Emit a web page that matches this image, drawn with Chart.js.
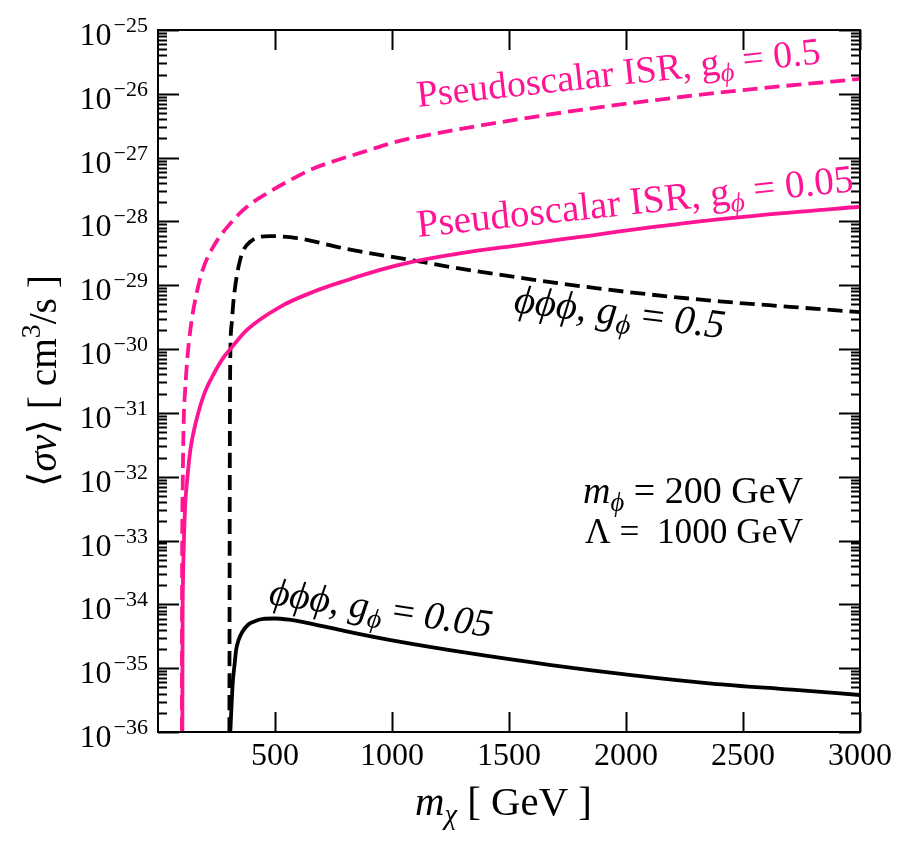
<!DOCTYPE html>
<html>
<head>
<meta charset="utf-8">
<script src="https://cdn.jsdelivr.net/npm/chart.js@4.4.1/dist/chart.umd.min.js"></script>
<style>
  html, body { margin: 0; padding: 0; background: #fff; }
</style>
</head>
<body>
<canvas id="xsecChart" width="910" height="844"></canvas>
<script>
// values: dark matter mass [GeV] vs <sigma v> [cm^3/s]
const isrMassStrong  = [102, 103, 106, 110, 116, 126, 140, 159, 191, 236, 309, 380, 465, 551, 664, 764, 878, 1020, 1162, 1276, 1746, 2243, 2670, 3000];
const isrSigmaStrong = [1e-36, 2.5e-34, 8.9e-33, 7.8e-32, 2.3e-31, 7.6e-31, 2.24e-30, 5.9e-30, 1.74e-29, 4.0e-29, 9.3e-29, 1.7e-28, 2.75e-28, 4.17e-28, 6.76e-28, 9.1e-28, 1.23e-27, 1.78e-27, 2.29e-27, 2.75e-27, 5.2e-27, 9.0e-27, 1.32e-26, 1.71e-26];

const isrMassWeak  = [104, 105, 107, 110, 116, 124, 138, 155, 172, 200, 237, 280, 309, 380, 522, 664, 807, 949, 1091, 1290, 1546, 1746, 2243, 2670, 3000];
const isrSigmaWeak = [1e-36, 5.0e-35, 2.5e-34, 7.9e-34, 3.5e-33, 8.3e-33, 2.6e-32, 5.6e-32, 1.0e-31, 2.1e-31, 4.0e-31, 7.4e-31, 1.0e-30, 2.0e-30, 4.6e-30, 7.9e-30, 1.2e-29, 1.74e-29, 2.34e-29, 3.16e-29, 4.27e-29, 5.37e-29, 9.33e-29, 1.35e-28, 1.7e-28];

const phiMassStrong  = [305, 307, 309, 315, 323, 351, 394, 479, 593, 807, 1091, 1262, 1600, 2000, 2400, 2700, 3000];
const phiSigmaStrong = [1e-36, 3.2e-32, 7.6e-31, 2.5e-30, 5.9e-30, 2.5e-29, 4.8e-29, 5.9e-29, 5.5e-29, 3.7e-29, 2.45e-29, 1.9e-29, 1.23e-29, 7.9e-30, 5.6e-30, 4.6e-30, 3.8e-30];

const phiMassWeak  = [309, 314, 320, 327, 334, 345, 360, 385, 411, 450, 497, 560, 652, 800, 994, 1337, 1680, 2023, 2366, 2709, 3000];
const phiSigmaWeak = [1e-36, 2.5e-36, 6.3e-36, 1.12e-35, 1.95e-35, 2.8e-35, 3.7e-35, 4.8e-35, 5.4e-35, 5.9e-35, 6.0e-35, 5.75e-35, 5.0e-35, 3.8e-35, 2.75e-35, 1.7e-35, 1.12e-35, 7.8e-36, 5.75e-36, 4.6e-36, 3.8e-36];

const xTicks = [500, 1000, 1500, 2000, 2500, 3000];
const yDecades = [-36, -35, -34, -33, -32, -31, -30, -29, -28, -27, -26, -25];

const PINK = '#ff1493';
const SERIF = '"Liberation Serif", "DejaVu Serif", serif';

function setFont(ctx, run, size) {
  ctx.font = (run.italic ? 'italic ' : '') + (size * (run.rel || 1)).toFixed(2) + 'px ' + SERIF;
}

function runsWidth(ctx, runs, size) {
  let w = 0;
  runs.forEach(r => { setFont(ctx, r, size); w += ctx.measureText(r.text).width; });
  return w;
}

// draw a row of text pieces (for sub/superscripts), optionally fit to a width
function drawRuns(ctx, runs, o) {
  let size = o.size;
  if (o.width) size = size * o.width / runsWidth(ctx, runs, size);
  const total = runsWidth(ctx, runs, size);
  ctx.save();
  ctx.translate(o.x, o.y);
  ctx.rotate((o.angle || 0) * Math.PI / 180);
  ctx.fillStyle = o.color || '#000';
  ctx.textAlign = 'left';
  ctx.textBaseline = 'alphabetic';
  let cx = o.align === 'center' ? -total / 2 : o.align === 'right' ? -total : 0;
  runs.forEach(r => {
    setFont(ctx, r, size);
    ctx.fillText(r.text, cx, (r.dy || 0) * size);
    cx += ctx.measureText(r.text).width;
  });
  ctx.restore();
}

const frame = {
  id: 'frame',
  afterDatasetsDraw(chart) {
    const { ctx, chartArea: a, scales: { x, y } } = chart;
    ctx.save();
    ctx.strokeStyle = '#000';
    ctx.lineWidth = 2;
    ctx.strokeRect(a.left, a.top, a.right - a.left, a.bottom - a.top);

    // inward ticks
    ctx.beginPath();
    xTicks.forEach(v => {
      const px = Math.round(x.getPixelForValue(v)) + 0.5;
      ctx.moveTo(px, a.bottom); ctx.lineTo(px, a.bottom - 20);
      ctx.moveTo(px, a.top); ctx.lineTo(px, a.top + 20);
    });
    yDecades.forEach(e => {
      const py = Math.round(y.getPixelForValue(Math.pow(10, e))) + 0.5;
      ctx.moveTo(a.left, py); ctx.lineTo(a.left + 21, py);
      ctx.moveTo(a.right, py); ctx.lineTo(a.right - 21, py);
      if (e === -25) return;
      for (let k = 2; k <= 9; k++) {
        const pm = Math.round(y.getPixelForValue(k * Math.pow(10, e))) + 0.5;
        ctx.moveTo(a.left, pm); ctx.lineTo(a.left + 9, pm);
        ctx.moveTo(a.right, pm); ctx.lineTo(a.right - 9, pm);
      }
    });
    ctx.stroke();

    // tick labels
    ctx.fillStyle = '#000';
    xTicks.forEach(v => {
      drawRuns(ctx, [{ text: String(v) }], { x: x.getPixelForValue(v), y: 765, size: 32, align: 'center' });
    });
    yDecades.forEach(e => {
      const py = y.getPixelForValue(Math.pow(10, e));
      ctx.font = '22px ' + SERIF;
      const sup = '\u2212' + Math.abs(e);
      ctx.textAlign = 'right';
      ctx.fillText(sup, 148, py + 2);
      const sw = ctx.measureText(sup).width;
      ctx.font = '32px ' + SERIF;
      ctx.fillText('10', 148 - sw - 2, py + 15);
    });

    // axis titles
    drawRuns(ctx, [
      { text: 'm', italic: true },
      { text: '\u03C7', italic: true, rel: 0.7, dy: 0.22 },
      { text: ' [ GeV ]' }
    ], { x: 415, y: 815, size: 40, width: 177 });

    drawRuns(ctx, [
      { text: '\u27E8' },
      { text: '\u03C3v', italic: true },
      { text: '\u27E9 [ cm' },
      { text: '3', rel: 0.7, dy: -0.4 },
      { text: '/s ]' }
    ], { x: 56, y: 381, size: 38, width: 212, align: 'center', angle: -90 });

    // curve labels
    const gsub = { text: '\u03D5', italic: true, rel: 0.7, dy: 0.2 };
    drawRuns(ctx, [{ text: 'Pseudoscalar ISR, g' }, gsub, { text: ' = 0.5' }],
      { x: 418, y: 107, size: 32, width: 406, angle: -6.2, color: PINK });
    drawRuns(ctx, [{ text: 'Pseudoscalar ISR, g' }, gsub, { text: ' = 0.05' }],
      { x: 418, y: 237, size: 32, width: 439, angle: -6.0, color: PINK });
    drawRuns(ctx, [{ text: '\u03D5\u03D5\u03D5, g', italic: true }, gsub, { text: ' = ' }, { text: '0.5', italic: true }],
      { x: 513, y: 312, size: 32, width: 212, angle: 7.1 });
    drawRuns(ctx, [{ text: '\u03D5\u03D5\u03D5, g', italic: true }, gsub, { text: ' = ' }, { text: '0.05', italic: true }],
      { x: 268, y: 604, size: 32, width: 225, angle: 8.5 });

    drawRuns(ctx, [{ text: 'm', italic: true }, gsub, { text: ' = 200 GeV' }],
      { x: 583, y: 503, size: 32, width: 220 });
    drawRuns(ctx, [{ text: '\u039B =  1000 GeV' }],
      { x: 585, y: 543, size: 32, width: 218 });
    ctx.restore();
  }
};

function curve(mass, sigma, color, dash) {
  return {
    data: mass.map((m, i) => ({ x: m, y: sigma[i] })),
    borderColor: color,
    borderWidth: 3.8,
    borderDash: dash,
    borderCapStyle: 'butt',
    pointRadius: 0,
    fill: false,
    cubicInterpolationMode: 'monotone'
  };
}

new Chart(document.getElementById('xsecChart'), {
  type: 'line',
  data: {
    datasets: [
      curve(isrMassWeak, isrSigmaWeak, PINK, []),
      curve(isrMassStrong, isrSigmaStrong, PINK, [15, 7]),
      curve(phiMassStrong, phiSigmaStrong, '#000', [15, 7]),
      curve(phiMassWeak, phiSigmaWeak, '#000', [])
    ]
  },
  options: {
    responsive: false,
    animation: false,
    layout: { padding: { top: 30, right: 50, left: 0, bottom: 0 } },
    plugins: { legend: { display: false }, tooltip: { enabled: false } },
    scales: {
      x: {
        type: 'linear', min: 0, max: 3000,
        grid: { display: false }, border: { display: false }, ticks: { display: false },
        afterFit: s => { s.height = 112; }
      },
      y: {
        type: 'logarithmic', min: 1e-36, max: 1e-25,
        grid: { display: false }, border: { display: false }, ticks: { display: false },
        afterFit: s => { s.width = 158; }
      }
    }
  },
  plugins: [frame]
});
</script>
</body>
</html>
